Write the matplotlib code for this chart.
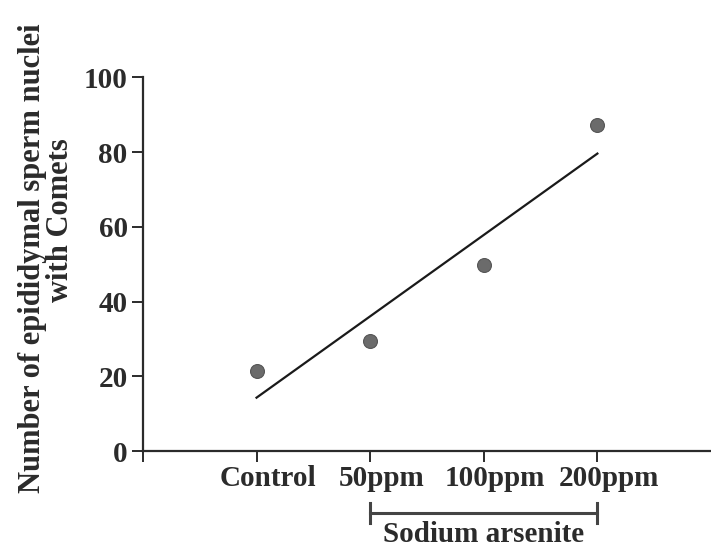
import numpy as np
import matplotlib
matplotlib.use("Agg")
import matplotlib.pyplot as plt
import matplotlib.transforms as mtransforms

# data
groups = ["Control", "50ppm", "100ppm", "200ppm"]
positions = [1, 2, 3, 4]
comets = [21.4, 29.4, 49.7, 87.2]
y_ticks = [0, 20, 40, 60, 80, 100]

INK = "#2b2b2b"
plt.rcParams["font.family"] = ["Liberation Serif", "DejaVu Serif"]
plt.rcParams["font.weight"] = "bold"

fig = plt.figure(figsize=(7.11, 5.48), dpi=100)
ax = fig.add_axes([0.201, 0.177, 0.799, 0.682])

ax.plot(positions, comets, "o", ms=10, color="#6b6b6b", mec="#555555", mew=0.8,
        zorder=3)

# linear fit across dose groups
slope, icpt = np.polyfit(positions, comets, 1)
xf = np.array([positions[0], positions[-1]])
ax.plot(xf, slope * xf + icpt, color="#1a1a1a", lw=1.6)

ax.set_xlim(0, 5)
ax.set_ylim(0, 100)
ax.set_yticks(y_ticks)
ax.set_xticks([0] + positions)
ax.set_xticklabels([""] + groups)

for s in ("top", "right"):
    ax.spines[s].set_visible(False)
for s in ("left", "bottom"):
    ax.spines[s].set_linewidth(1.6)
    ax.spines[s].set_color(INK)

ax.tick_params(axis="both", direction="out", length=8, width=1.4, color=INK,
               labelsize=21, labelcolor=INK, pad=3)

# tick labels in the reference sit a little right of their ticks
shift = mtransforms.ScaledTranslation(8 / 72, 1 / 72, fig.dpi_scale_trans)
for lbl in ax.get_xticklabels():
    lbl.set_transform(lbl.get_transform() + shift)

# y label, two lines placed separately like the original
fig.text(33 / 711, 1 - 258 / 548, "Number of epididymal sperm nuclei",
         rotation=90, ha="center", va="center", fontsize=22, color=INK)
fig.text(60 / 711, 1 - 220 / 548, "with Comets",
         rotation=90, ha="center", va="center", fontsize=22, color=INK)

# bracket for the sodium arsenite groups
tr = mtransforms.blended_transform_factory(ax.transData, ax.transAxes)
yb = -0.166
ax.plot([2, 4], [yb, yb], color="#444444", lw=2.2, transform=tr, clip_on=False)
for xe in (2, 4):
    ax.plot([xe, xe], [yb - 0.027, yb + 0.027], color="#444444", lw=2.2,
            transform=tr, clip_on=False)
ax.text(3, -0.244, "Sodium arsenite", transform=tr, ha="center",
        va="baseline", fontsize=21, color=INK)

fig.savefig("out.png", dpi=100)
